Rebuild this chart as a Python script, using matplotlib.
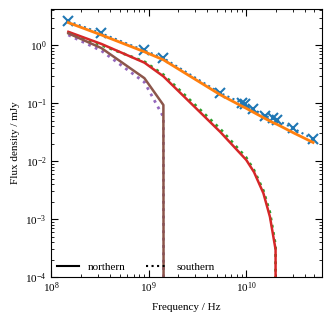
import numpy as np
import matplotlib
matplotlib.use("Agg")
from matplotlib import pyplot as plt
from matplotlib.lines import Line2D

plt.rcParams['font.family'] = ['Liberation Serif', 'DejaVu Serif']
plt.rcParams['mathtext.fontset'] = 'stix'
plt.rcParams['font.size'] = 8

# observed flux densities (blue crosses)
freq_obs = [1.49e8, 3.26e8, 9.0e8, 1.41e9, 5.4e9, 9.1e9, 9.8e9, 1.18e10,
            1.57e10, 1.89e10, 2.08e10, 3.03e10, 4.86e10]
flux_obs = [2.6, 1.6, 0.81, 0.6, 0.15, 0.1, 0.095, 0.079,
            0.06, 0.055, 0.051, 0.037, 0.024]

# model fit to the data (orange)
flux_fit = [2.45, 1.5, 0.77, 0.56, 0.14, 0.088, 0.083, 0.07,
            0.054, 0.046, 0.043, 0.031, 0.021]

# aged spectra: green (southern) / red (northern)
freq_mid = [1.49e8, 3.26e8, 9.0e8, 1.41e9, 5.4e9, 1.0e10, 1.2e10,
            1.5e10, 1.75e10, 2.0e10, 3.0e10]
flux_mid_n = [1.7, 1.05, 0.5, 0.29, 0.032, 0.0105, 0.0065, 0.0028,
              0.0011, 0.0003, 0.0]
flux_mid_s = [1.65, 1.0, 0.52, 0.31, 0.036, 0.0115, 0.007, 0.0031,
              0.0013, 0.00035, 0.0]

# strongly aged spectra: purple (southern) / brown (northern)
freq_old = [1.49e8, 3.26e8, 9.0e8, 1.41e9, 5.4e9]
flux_old_n = [1.6, 0.89, 0.27, 0.093, 0.0]
flux_old_s = [1.5, 0.8, 0.23, 0.058, 0.0]

fig, ax = plt.subplots(figsize=(3.32, 3.23), dpi=100)

ax.plot(freq_obs, flux_obs, color='C0', ls=':', lw=1.5, marker='x', ms=7, mew=1.5)
ax.plot(freq_obs, flux_fit, color='C1', ls='-', lw=2)
ax.plot(freq_mid, flux_mid_s, color='C2', ls=':', lw=2)
ax.plot(freq_mid, flux_mid_n, color='C3', ls='-', lw=1.8)
ax.plot(freq_old, flux_old_s, color='C4', ls=':', lw=2)
ax.plot(freq_old, flux_old_n, color='C5', ls='-', lw=1.8)

ax.set_xscale('log')
ax.set_yscale('log')
ax.set_xlim(1e8, 6e10)
ax.set_ylim(1e-4, 4.2)
ax.set_xlabel('Frequency / Hz', labelpad=6)
ax.set_ylabel('Flux density / mJy')
ax.tick_params(which='both', direction='in', top=True, right=True)
ax.tick_params(which='major', length=5)
ax.tick_params(which='minor', length=2.5)
ax.tick_params(axis='x', which='major', pad=2)

handles = [Line2D([], [], color='k', ls='-', lw=1.5),
           Line2D([], [], color='k', ls=':', lw=1.5)]
ax.legend(handles, ['northern', 'southern'], loc='lower left', ncol=2,
          frameon=False, borderaxespad=0.1, columnspacing=1.8)

fig.subplots_adjust(left=0.155, right=0.97, top=0.972, bottom=0.142)
fig.savefig('out.png', dpi=100)
